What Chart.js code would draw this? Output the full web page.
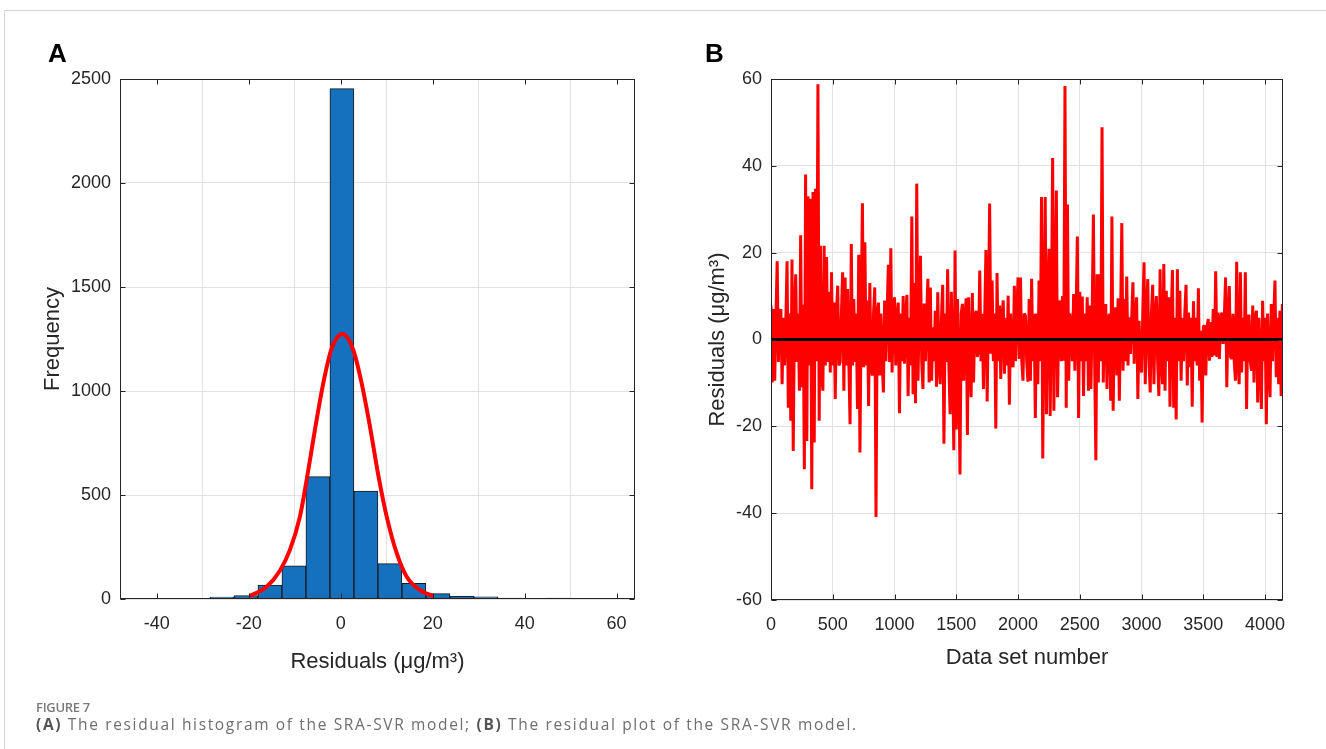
<!DOCTYPE html>
<html>
<head>
<meta charset="utf-8">
<script src="https://cdn.jsdelivr.net/npm/chart.js@4.4.1/dist/chart.umd.min.js"></script>
<style>
  html, body { margin: 0; padding: 0; background: #fff; }
  body { width: 1326px; height: 749px; position: relative; overflow: hidden; font-family: "Liberation Sans", Arial, sans-serif; }
  .frame { position: absolute; left: 4px; top: 10px; right: 0; bottom: 0; border-left: 1px solid #d6d6d6; border-top: 1px solid #d6d6d6; }
  .panel { position: absolute; top: 0; height: 700px; }
  #histWrap { left: 0; width: 660px; }
  #residWrap { left: 660px; width: 666px; }
  .tag { position: absolute; top: 40px; font-weight: bold; font-size: 26px; line-height: 26px; color: #000; }
  .fig { position: absolute; left: 36px; top: 701px; font-family: "Open Sans", sans-serif; font-size: 13px; line-height: 13px; font-weight: 600; color: #7a7a7a; letter-spacing: -0.3px; }
  .cap { position: absolute; left: 36px; top: 716px; font-family: "Open Sans", sans-serif; font-size: 15.5px; line-height: 16px; color: #6e6e6e; letter-spacing: 1.65px; white-space: nowrap; }
  .cap b { font-weight: 700; color: #555; }
</style>
</head>
<body>
<div class="frame"></div>
<div class="panel" id="histWrap"><canvas id="hist" width="660" height="700"></canvas></div>
<div class="panel" id="residWrap"><canvas id="resid" width="666" height="700"></canvas></div>
<div class="tag" style="left:48px;">A</div>
<div class="tag" style="left:705px;">B</div>
<div class="fig">FIGURE 7</div>
<div class="cap"><b>(A)</b> The residual histogram of the SRA-SVR model; <b>(B)</b> The residual plot of the SRA-SVR model.</div>
<script>
// histogram (panel A)
const binCenters = [-31.06, -25.84, -20.62, -15.40, -10.18, -4.96, 0.26, 5.48, 10.70, 15.92,
                    21.14, 26.36, 31.58, 36.80, 42.02, 47.24, 52.46, 57.68];
const binCounts = [3, 9, 17, 67, 160, 588, 2454, 519, 170, 75, 26, 14, 10, 5, 1, 4, 0, 2];

// fitted normal curve
const fitX = [-19.76, -16.12, -13.23, -11.05, -8.87, -7.41, -5.61, -3.8, -1.97, 0.42,
              2.73, 4.56, 6.37, 8.17, 10.0, 12.18, 14.35, 17.25, 20.15];
const fitY = [14, 59, 136, 236, 396, 572, 813, 1037, 1205, 1274,
              1197, 1037, 828, 596, 396, 220, 107, 43, 14];

const histXTicks = [-40, -20, 0, 20, 40, 60];
const histYTicks = [0, 500, 1000, 1500, 2000, 2500];

// residual plot (panel B), one reading every 10 data sets
const residualStep = 10;
const residuals = [
  7.8, -9.9, 7, -9.5, 5, 18, -5.2, 6, 7, -10.3,
  5, -6, 4, 18, -15.7, 6, -18.7, 18.4, -25.7, 6,
  15, -5.2, 6, -11.8, 24, -11, 8, -29.9, 38, -23.4,
  33, -6, 32.4, -34.5, 34, -23.7, 34.7, -5, 58.8, -18.7,
  21.6, -8, -11.8, 21.6, -6, 19, -5.2, 11, -7.6, 15.5,
  -6, 8.5, -13.7, 6, 12.4, -6, -5.2, 6, 15.5, -11.8,
  14.3, -6, 11.6, -5, -19.5, 22, -6, 9.3, -5.2, 6,
  -16, 19.5, -26, 6, 31.4, -6.4, 22.4, -6, 9, -15.3,
  13, -6, -8.3, 6, 12, -40.9, 6, 8.5, -8.3, 6,
  -5, -12.2, 9, -5, 6, 17.2, -5.2, 21, -7.6, 6,
  9.7, -6, 5, 8.5, -17, 6, -5, 10, -5.6, 5,
  10.3, -13, 5, -6, 28.3, -12.6, 13, -14.7, 35.9, -9.5,
  6, 19.3, -5, -11.4, 8.3, -5, 5, 14, -9.9, 12,
  -9.5, 2.8, -5, 6.6, -10.9, 10.9, -5, -10.3, 5, 12.6,
  -24, 6, -5.2, 16.2, -6, -17.2, 11, -6, -25.5, 20.5,
  -20.7, 9.3, -6, -31.1, 6, 8.2, -9.5, 5, 9.5, -22,
  9.7, -5, -13.3, 10.7, -9.9, 5, 6.6, -4, -2.5, 15.9,
  -5, 5.9, -11.4, 5, 20.6, -14.3, 6, 31.3, -3.3, 13.6,
  -5, 6, -20.5, 15.3, -5, 7.8, -9.1, 5, 9, -7.9,
  5, -6, 10.1, -15, 6, -5, -6.4, 12.4, -5, 6,
  14.3, -4.5, 14.3, -5, -9.5, 6, 5.5, -5, -9.7, 9.3,
  -9.5, 14, -5, 5.9, -18.1, 6, -10.3, 13.6, -5, 32.8,
  -27.4, 6, 32.8, -17.2, 8, 20.9, -17.6, 6, 41.8, -16.4,
  8, 34.3, -13.3, 6, 9, -5, 10, -4.9, 58.4, -15.7,
  31.1, -9.5, 6, 2.8, -5, 10.5, -7.2, 6, 23.7, -18.1,
  11, -5, 9.9, -13, 6, -5, 9.7, -11.8, 7.8, -11.4,
  6, 28.8, -5, -27.8, 15, -9.9, 15, -5, 48.9, -9.9,
  6, 8.2, -11.4, 5, 5.9, -14.1, 28.3, -16.4, 5, 7.4,
  -8.3, 9.5, -14.1, 5, 26.8, -7.2, 9.3, -5, 14.5, -6,
  5.1, -3.3, 5, 13.2, -5.6, 5, 9.7, -13.7, 4.3, -5,
  -7.6, 6, 17.8, -10.3, 6, 13.9, -5, -12.2, 6, 12.6,
  -10.3, 5, 10, -5, -13, 16.2, -5, -10.3, 17.4, -11.8,
  11.2, -5, 9.7, -15.5, 5, 16, -15.7, 5, -18.4, 16.2,
  -5, 11.2, -9.5, 5, -5, 6, 12.6, -10.6, 6.2, -6.4,
  5, -15.5, 8.8, -5, 5, -6, 11.8, -9.5, 2, -19.1,
  3, 3.2, -8.3, 3, 4.7, -4.9, 4, -4, 7, -3.7,
  15.7, -4, 6.2, -4.5, 5, 6.2, -1, 5, 14.3, -11,
  5, 12.3, -4, -4.5, 5.9, -5, -9.5, 17.9, -5, -10.3,
  15.5, -7.6, 5, -5, 15.5, -16, 5, 5.7, -5, -7.2,
  7.8, -9.9, 5, 6.6, -14.5, 5, -5, -16, 8.9, -5,
  5, -19.5, 6, -5, -13.3, 8.2, -5, 5, 13.6, -8.7, 5, -10.3, 6.6, -13, 8.2
];
const residXMax = 4145;
const residXTicks = [0, 500, 1000, 1500, 2000, 2500, 3000, 3500, 4000];
const residYTicks = [-60, -40, -20, 0, 20, 40, 60];

const AXIS_COLOR = '#262626';
const GRID_COLOR = '#e2e2e2';
Chart.defaults.font.family = '"Liberation Sans", Arial, sans-serif';
Chart.defaults.color = AXIS_COLOR;

// matlab style box with inward tick marks on all sides
const boxPlugin = {
  id: 'matlabBox',
  afterDatasetsDraw(chart) {
    const { ctx, chartArea: a, scales } = chart;
    const l = Math.floor(a.left) + 0.5, r = Math.floor(a.right) - 0.5;
    const t = Math.floor(a.top) + 0.5, b = Math.floor(a.bottom) - 0.5;
    const len = 5;
    ctx.save();
    ctx.strokeStyle = AXIS_COLOR;
    ctx.lineWidth = 1;
    ctx.strokeRect(l, t, r - l, b - t);
    ctx.beginPath();
    scales.x.ticks.forEach(tk => {
      const px = Math.round(scales.x.getPixelForValue(tk.value)) + 0.5;
      ctx.moveTo(px, b); ctx.lineTo(px, b - len);
      ctx.moveTo(px, t); ctx.lineTo(px, t + len);
    });
    scales.y.ticks.forEach(tk => {
      const py = Math.round(scales.y.getPixelForValue(tk.value)) + 0.5;
      ctx.moveTo(l, py); ctx.lineTo(l + len, py);
      ctx.moveTo(r, py); ctx.lineTo(r - len, py);
    });
    ctx.stroke();
    ctx.restore();
  }
};

function fixedTicks(list) {
  return (scale) => { scale.ticks = list.map(v => ({ value: v })); };
}

function tickStyle(pad) {
  // plain numbers, no thousands separator
  return { font: { size: 18 }, padding: pad, color: AXIS_COLOR, callback: (v) => String(v) };
}

function axisTitle(text, padding) {
  return { display: true, text, color: AXIS_COLOR, font: { size: 22 }, padding };
}

// panel A
new Chart(document.getElementById('hist'), {
  type: 'bar',
  data: {
    datasets: [
      {
        type: 'line',
        order: 0,
        data: fitX.map((x, i) => ({ x, y: fitY[i] })),
        borderColor: '#ff0000',
        borderWidth: 4,
        pointRadius: 0,
        cubicInterpolationMode: 'monotone',
        fill: false
      },
      {
        type: 'bar',
        order: 1,
        data: binCenters.map((x, i) => ({ x, y: binCounts[i] })),
        backgroundColor: '#1570bd',
        borderColor: '#1a1a1a',
        borderWidth: 1,
        borderSkipped: false,
        barPercentage: 1,
        categoryPercentage: 1
      }
    ]
  },
  options: {
    responsive: false,
    animation: false,
    events: [],
    layout: { padding: { left: 0, top: 79, right: 25, bottom: 21 } },
    plugins: { legend: { display: false }, tooltip: { enabled: false } },
    scales: {
      x: {
        type: 'linear',
        min: -48,
        max: 64,
        offset: false,
        afterBuildTicks: fixedTicks(histXTicks),
        afterFit: (s) => { s.height = 80; },
        ticks: tickStyle(14),
        grid: { color: GRID_COLOR, drawTicks: false },
        border: { display: false },
        title: axisTitle('Residuals (μg/m³)', { top: 0, bottom: 4 })
      },
      y: {
        min: 0,
        max: 2500,
        afterBuildTicks: fixedTicks(histYTicks),
        afterFit: (s) => { s.width = 120; },
        ticks: tickStyle(9),
        grid: { color: GRID_COLOR, drawTicks: false },
        border: { display: false },
        title: axisTitle('Frequency', { top: 40, bottom: 0 })
      }
    }
  },
  plugins: [boxPlugin]
});

// panel B
new Chart(document.getElementById('resid'), {
  type: 'line',
  data: {
    datasets: [
      {
        order: 0,
        data: [{ x: 0, y: 0 }, { x: residXMax, y: 0 }],
        borderColor: '#000000',
        borderWidth: 3,
        pointRadius: 0
      },
      {
        order: 1,
        data: residuals.map((v, i) => ({ x: i * residualStep, y: v })),
        borderColor: '#ff0000',
        borderWidth: 3,
        borderJoinStyle: 'bevel',
        pointRadius: 0,
        tension: 0
      }
    ]
  },
  options: {
    responsive: false,
    animation: false,
    events: [],
    layout: { padding: { left: 0, top: 79, right: 43, bottom: 20 } },
    plugins: { legend: { display: false }, tooltip: { enabled: false } },
    scales: {
      x: {
        type: 'linear',
        min: 0,
        max: residXMax,
        afterBuildTicks: fixedTicks(residXTicks),
        afterFit: (s) => { s.height = 80; },
        ticks: tickStyle(14),
        grid: { color: GRID_COLOR, drawTicks: false },
        border: { display: false },
        title: axisTitle('Data set number', { top: 0, bottom: 9 })
      },
      y: {
        min: -60,
        max: 60,
        afterBuildTicks: fixedTicks(residYTicks),
        afterFit: (s) => { s.width = 111; },
        ticks: tickStyle(9),
        grid: { color: GRID_COLOR, drawTicks: false },
        border: { display: false },
        title: axisTitle('Residuals (μg/m³)', { top: 45, bottom: 0 })
      }
    }
  },
  plugins: [boxPlugin]
});
</script>
</body>
</html>
